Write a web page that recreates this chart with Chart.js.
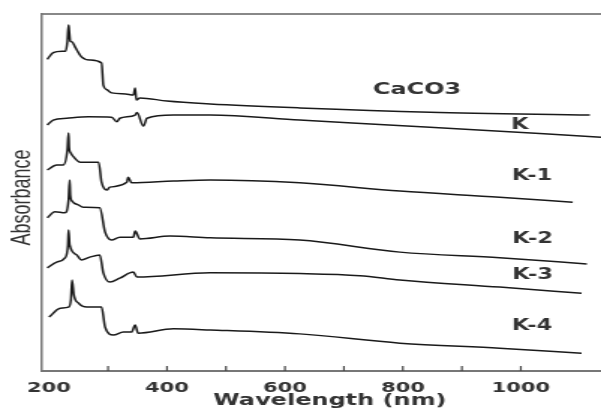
<!DOCTYPE html>
<html>
<head>
<meta charset="utf-8">
<script src="https://cdn.jsdelivr.net/npm/chart.js@4.4.1/dist/chart.umd.min.js"></script>
<style>
  html, body { margin: 0; padding: 0; background: #fff; overflow: hidden; }
  /* the source picture is stretched sideways, so the canvas is too */
  #myChart { display: block; transform: scaleX(1.4988); transform-origin: 0 0; }
</style>
</head>
<body>
<canvas id="myChart" width="401" height="409"></canvas>
<script>
  // spectra (nm, stacked absorbance in arbitrary units)
  var caco3Nm  = [197,207,222,228,231,233,234,236,239,244,255,269,289,292,298,306,330,343,346,348,354,400,473,625,846,1117];
  var caco3Abs = [87.3,89.2,89.6,89.6,92.2,96.9,95.5,92.4,92.2,90.8,88.0,87.1,86.3,80.1,78.8,77.9,77.6,77.3,79.3,75.9,76.5,75.6,74.8,73.7,72.5,71.7];

  var kNm  = [197,207,230,267,306,315,320,346,349,360,366,411,473,625,846,1136];
  var kAbs = [68.9,70.3,70.8,71.2,71.1,69.8,70.8,71.7,72.4,68.6,70.8,71.7,71.7,70.3,68.3,65.5];

  var k1Nm  = [197,213,224,231,233,234,236,242,253,284,289,298,303,332,334,340,411,473,625,795,964,1088];
  var k1Abs = [56.3,57.7,57.7,61.9,66.7,62.5,61.3,59.9,58.5,58.5,52.9,50.7,51.5,52.9,54.3,52.7,53.2,53.5,52.7,50.4,48.7,47.3];

  var k2Nm  = [197,210,227,233,235,236,239,250,258,286,295,306,320,343,346,354,405,473,625,795,964,1112];
  var k2Abs = [42.9,44.6,44.3,47.9,53.5,49.3,47.6,46.5,45.9,45.7,38.9,36.7,37.5,37.5,39.2,37.0,37.8,37.3,36.7,33.3,31.7,30.0];

  var k3Nm  = [197,213,227,232,233,235,247,255,269,286,292,303,320,343,349,473,625,727,795,964,1103];
  var k3Abs = [28.9,30.5,31.7,35.3,39.5,35.3,32.5,31.1,31.9,32.5,27.5,24.9,26.0,27.7,26.3,27.5,27.3,26.7,25.5,23.5,21.8];

  var k4Nm  = [200,219,233,237,239,242,250,264,289,295,309,326,340,346,351,411,473,625,795,964,1103];
  var k4Abs = [15.1,17.6,17.9,19.9,25.5,21.3,19.0,17.9,17.9,12.3,10.1,10.9,10.9,12.9,10.6,11.8,11.5,10.4,7.8,6.4,5.0];

  var seriesNames = ['CaCO3','K','K-1','K-2','K-3','K-4'];
  var labelNm  = [824, 998, 1019, 1020, 1020, 1019];
  var labelAbs = [78.7, 68.9, 54.6, 37.0, 26.9, 12.6];

  var xTickValues  = [200, 400, 600, 800, 1000];
  var xMinorValues = [300, 400, 500, 600, 700, 800, 900, 1000];

  var allNm  = [caco3Nm, kNm, k1Nm, k2Nm, k3Nm, k4Nm];
  var allAbs = [caco3Abs, kAbs, k1Abs, k2Abs, k3Abs, k4Abs];

  var datasets = seriesNames.map(function(name, s) {
    return {
      label: name,
      data: allNm[s].map(function(x, i) { return { x: x, y: allAbs[s][i] }; }),
      borderColor: '#1a1a1a',
      borderWidth: 1.5,
      pointRadius: 0,
      cubicInterpolationMode: 'monotone',
      fill: false
    };
  });

  // small inward tick marks on the wavelength axis
  var minorTicks = {
    id: 'minorTicks',
    afterDraw: function(chart) {
      var ctx = chart.ctx, xs = chart.scales.x, bottom = chart.chartArea.bottom;
      ctx.save();
      ctx.strokeStyle = '#444';
      ctx.lineWidth = 1.2;
      xMinorValues.forEach(function(v) {
        var px = xs.getPixelForValue(v);
        ctx.beginPath();
        ctx.moveTo(px, bottom);
        ctx.lineTo(px, bottom - 5);
        ctx.stroke();
      });
      ctx.restore();
    }
  };

  // sample names written next to each trace
  var traceLabels = {
    id: 'traceLabels',
    afterDatasetsDraw: function(chart) {
      var ctx = chart.ctx;
      ctx.save();
      ctx.fillStyle = '#333';
      ctx.textAlign = 'center';
      ctx.textBaseline = 'middle';
      seriesNames.forEach(function(name, i) {
        ctx.font = (i === 0 ? 'bold 16px' : 'bold 15px') + ' "DejaVu Sans"';
        ctx.fillText(name, chart.scales.x.getPixelForValue(labelNm[i]), chart.scales.y.getPixelForValue(labelAbs[i]));
      });
      ctx.restore();
    }
  };

  var ctx = document.getElementById('myChart');
  var myChart = new Chart(ctx, {
    type: 'line',
    data: { datasets: datasets },
    options: {
      responsive: false,
      animation: false,
      devicePixelRatio: 1,
      layout: { padding: 0 },
      plugins: { legend: { display: false }, tooltip: { enabled: false } },
      scales: {
        x: {
          type: 'linear',
          position: 'bottom',
          min: 188,
          max: 1136,
          afterFit: function(scale) { scale.height = 38; },
          afterBuildTicks: function(scale) {
            scale.ticks = xTickValues.map(function(v) { return { value: v }; });
          },
          grid: { display: false },
          border: { display: true, color: '#777', width: 2 },
          ticks: {
            padding: 2,
            color: '#333',
            maxRotation: 0,
            callback: function(v) { return String(v); },
            font: { family: 'DejaVu Sans', size: 14, weight: 'bold', lineHeight: 1.0 }
          },
          title: {
            display: true,
            text: '  Wavelength (nm)',
            color: '#333',
            padding: { top: 0, bottom: 0 },
            font: { family: 'DejaVu Sans', size: 16, weight: 'bold', lineHeight: 1.0 }
          }
        },
        xTop: {
          type: 'linear',
          position: 'top',
          min: 188,
          max: 1136,
          afterFit: function(scale) { scale.height = 14; },
          grid: { display: false },
          border: { display: true, color: '#888', width: 2 },
          ticks: { display: false }
        },
        y: {
          min: 0,
          max: 100,
          afterFit: function(scale) { scale.width = 28; },
          grid: { display: false },
          border: { display: true, color: '#777', width: 1.5 },
          ticks: { display: false },
          title: {
            display: true,
            text: 'Absorbance  ',
            color: '#333',
            padding: { top: 4, bottom: 0 },
            font: { family: 'Liberation Sans', size: 18 }
          }
        }
      }
    },
    plugins: [minorTicks, traceLabels]
  });
</script>
</body>
</html>
